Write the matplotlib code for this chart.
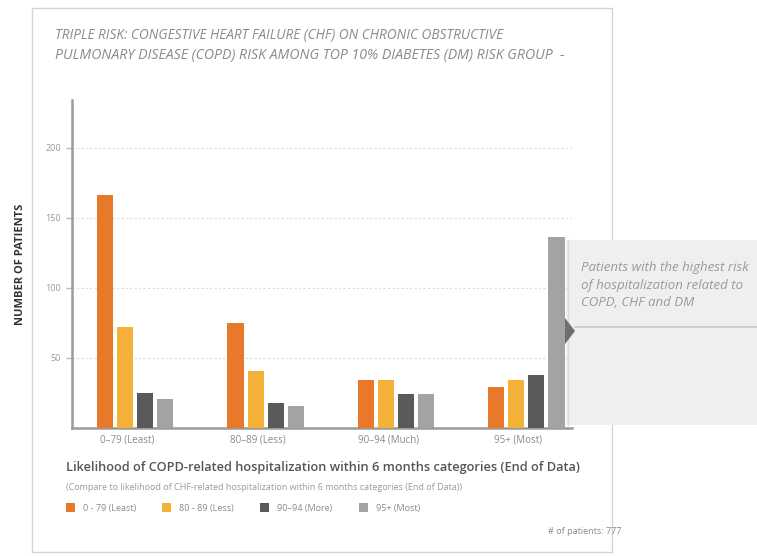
import matplotlib
matplotlib.use("Agg")
import matplotlib.pyplot as plt
from matplotlib.patches import Rectangle, Polygon
import numpy as np

plt.rcParams['font.family'] = ['Open Sans', 'DejaVu Sans']

categories = ["0–79 (Least)", "80–89 (Less)", "90–94 (Much)", "95+ (Most)"]
series_names = ["0 - 79 (Least)", "80 - 89 (Less)", "90–94 (More)", "95+ (Most)"]
least = [166, 75, 34, 29]
less = [72, 41, 34, 34]
more = [25, 18, 24, 38]
most = [21, 16, 24, 136]
yticks = [50, 100, 150, 200]
colors = ["#E8792B", "#F4B13A", "#5A5A5A", "#A3A3A3"]

W, H = 757, 556
fig = plt.figure(figsize=(W / 100, H / 100), dpi=100)

def fx(px):
    return px / W

def fy(py):
    return 1 - py / H

# card border
fig.patches.append(Rectangle((fx(32), fy(552)), fx(612) - fx(32), fy(8) - fy(552),
                             transform=fig.transFigure, facecolor="white",
                             edgecolor="#D4D4D4", lw=1.0, zorder=0))

# annotation panel
fig.patches.append(Rectangle((fx(566), fy(425)), fx(757) - fx(566), fy(240) - fy(425),
                             transform=fig.transFigure, facecolor="#EFEFEF",
                             edgecolor="none", zorder=0.5))
fig.lines.append(plt.Line2D([fx(568), fx(568)], [fy(425), fy(240)], transform=fig.transFigure,
                            color="#DADADA", lw=1.0, zorder=0.6))

ax = fig.add_axes([fx(72), fy(428), fx(572) - fx(72), fy(100) - fy(428)])
ax.set_facecolor("none")
ax.set_zorder(2)

x = np.arange(len(categories))
width = 0.123
step = 0.154
for j, (vals, name) in enumerate(zip([least, less, more, most], series_names)):
    ax.bar(x + (j - 1.5) * step, vals, width=width, color=colors[j], label=name, zorder=3)

ax.set_xlim(-0.485, 3.35)
ax.set_ylim(0, 234)
ax.set_yticks(yticks)
ax.set_yticklabels([str(t) for t in yticks], fontsize=6.5, color="#9A9A9A")
ax.set_xticks(x - 0.06)
ax.set_xticklabels(categories, fontsize=7, color="#8A8A8A")
ax.tick_params(axis="x", length=0, pad=5)
ax.tick_params(axis="y", length=4, width=1, color="#BBBBBB", pad=4)
ax.grid(axis="y", color="#DDDDDD", lw=0.8, ls=(0, (2, 2)), zorder=0)
for s in ["top", "right"]:
    ax.spines[s].set_visible(False)
for s in ["left", "bottom"]:
    ax.spines[s].set_color("#9A9A9A")
    ax.spines[s].set_linewidth(1.8)

ax.set_ylabel("NUMBER OF PATIENTS", fontsize=8, fontweight="bold", color="#333333", labelpad=14)

# title
fig.text(fx(55), fy(35), "TRIPLE RISK: CONGESTIVE HEART FAILURE (CHF) ON CHRONIC OBSTRUCTIVE",
         fontsize=9.8, style="italic", color="#8A8A8A", va="center", ha="left")
fig.text(fx(55), fy(55), "PULMONARY DISEASE (COPD) RISK AMONG TOP 10% DIABETES (DM) RISK GROUP  -",
         fontsize=10.2, style="italic", color="#8A8A8A", va="center", ha="left")

# x axis title and subtitle
fig.text(fx(66), fy(467), "Likelihood of COPD-related hospitalization within 6 months categories (End of Data)",
         fontsize=9.2, fontweight="semibold", color="#555555", va="center", ha="left")
fig.text(fx(66), fy(487), "(Compare to likelihood of CHF-related hospitalization within 6 months categories (End of Data))",
         fontsize=6.5, color="#9A9A9A", va="center", ha="left")

# legend
leg = fig.legend(loc="center left", bbox_to_anchor=(fx(62), fy(508)), ncol=4, frameon=False,
                 fontsize=6.5, handlelength=1.0, handleheight=1.0, columnspacing=2.9,
                 handletextpad=0.9, borderaxespad=0)
for t in leg.get_texts():
    t.set_color("#8A8A8A")

fig.text(fx(621), fy(531), "# of patients: 777", fontsize=6.5, color="#8A8A8A", ha="right", va="center")

# annotation decorations
fig.lines.append(plt.Line2D([fx(575), fx(757)], [fy(327), fy(327)], transform=fig.transFigure,
                            color="#C8C8C8", lw=1.2, zorder=1))
fig.patches.append(Polygon([(fx(565), fy(318)), (fx(575), fy(331)), (fx(565), fy(344))],
                           closed=True, transform=fig.transFigure, facecolor="#6E6E6E",
                           edgecolor="none", zorder=3))
fig.text(fx(581), fy(267), "Patients with the highest risk", fontsize=9.5, style="italic",
         color="#9A9A9A", ha="left", va="center")
fig.text(fx(581), fy(285), "of hospitalization related to", fontsize=9.5, style="italic",
         color="#9A9A9A", ha="left", va="center")
fig.text(fx(581), fy(303), "COPD, CHF and DM", fontsize=9.5, style="italic",
         color="#9A9A9A", ha="left", va="center")

fig.savefig("out.png", dpi=100)
